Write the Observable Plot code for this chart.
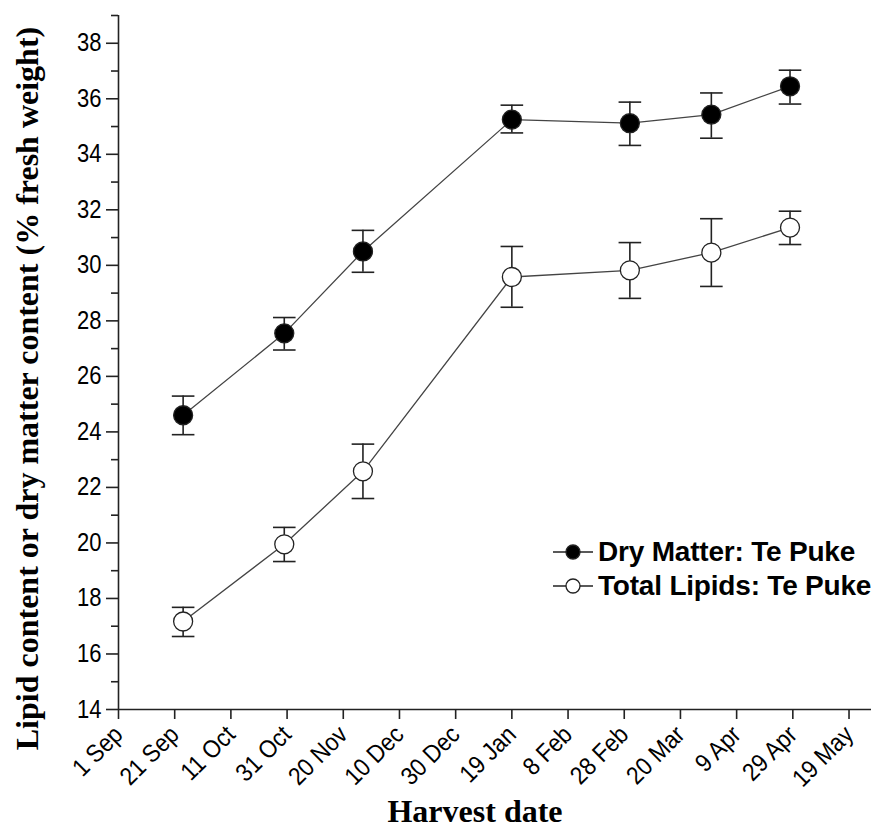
<!DOCTYPE html>
<html>
<head>
<meta charset="utf-8">
<script src="https://cdn.jsdelivr.net/npm/d3@7"></script>
<script src="https://cdn.jsdelivr.net/npm/@observablehq/plot@0.6"></script>
<style>
  html, body { margin: 0; padding: 0; background: #fff; }
  #wrap { position: relative; width: 881px; height: 832px; }
  #legend { position: absolute; left: 551px; top: 535px; font-family: "Liberation Sans", Arial, sans-serif; font-weight: bold; font-size: 28px; letter-spacing: -0.2px; color: #000; }
  .row { display: flex; align-items: center; height: 34px; }
  .row svg { display: block; margin-right: 3px; }
</style>
</head>
<body>
<div id="wrap">
  <div id="chart"></div>
  <div id="legend"></div>
</div>
<script>
// ---- data ----
const harvestDates = ["2005-09-24", "2005-10-30", "2005-11-27", "2006-01-19", "2006-03-02", "2006-03-31", "2006-04-28"];
const dryMatter     = [24.6, 27.55, 30.5, 35.25, 35.12, 35.43, 36.45];
const dryMatterLow  = [23.9, 26.95, 29.75, 34.77, 34.32, 34.58, 35.81];
const dryMatterHigh = [25.29, 28.12, 31.26, 35.77, 35.88, 36.21, 37.03];
const lipids        = [17.17, 19.95, 22.58, 29.58, 29.82, 30.46, 31.36];
const lipidsLow     = [16.63, 19.33, 21.6, 28.49, 28.81, 29.24, 30.75];
const lipidsHigh    = [17.68, 20.56, 23.56, 30.68, 30.82, 31.68, 31.95];

const seriesNames = ["Dry Matter: Te Puke", "Total Lipids: Te Puke"];

const xTickDates  = ["2005-09-01", "2005-09-21", "2005-10-11", "2005-10-31", "2005-11-20", "2005-12-10", "2005-12-30", "2006-01-19", "2006-02-08", "2006-02-28", "2006-03-20", "2006-04-09", "2006-04-29", "2006-05-19"];
const xTickLabels = ["1 Sep", "21 Sep", "11 Oct", "31 Oct", "20 Nov", "10 Dec", "30 Dec", "19 Jan", "8 Feb", "28 Feb", "20 Mar", "9 Apr", "29 Apr", "19 May"];
const xDomain = ["2005-09-01", "2006-05-27"];

const yMajorTicks = [14, 16, 18, 20, 22, 24, 26, 28, 30, 32, 34, 36, 38];
const yMinorTicks = [15, 17, 19, 21, 23, 25, 27, 29, 31, 33, 35, 37, 39];
const yDomain = [14, 39];

const xTitle = "Harvest date";
const yTitle = "Lipid content or dry matter content (% fresh weight)";

// ---- build tables ----
const rows = [];
harvestDates.forEach((d, i) => {
  rows.push({series: seriesNames[0], date: new Date(d), value: dryMatter[i], low: dryMatterLow[i], high: dryMatterHigh[i]});
});
harvestDates.forEach((d, i) => {
  rows.push({series: seriesNames[1], date: new Date(d), value: lipids[i], low: lipidsLow[i], high: lipidsHigh[i]});
});
const caps = rows.flatMap(r => [{date: r.date, y: r.low}, {date: r.date, y: r.high}]);
const labelByTime = new Map(xTickDates.map((d, i) => [new Date(d).getTime(), xTickLabels[i]]));

const capSymbol = {
  draw(context, size) {
    const w = Math.sqrt(size / Math.PI);
    context.moveTo(-w, 0);
    context.lineTo(w, 0);
  }
};

const fill = {[seriesNames[0]]: "#000", [seriesNames[1]]: "#fff"};
const serif = "'Liberation Serif', 'Times New Roman', serif";

const plot = Plot.plot({
  width: 881,
  height: 832,
  marginLeft: 118,
  marginRight: 10,
  marginTop: 15,
  marginBottom: 123,
  style: {fontFamily: "'Liberation Sans', Arial, sans-serif", color: "#000", background: "#fff"},
  x: {type: "utc", domain: xDomain.map(d => new Date(d))},
  y: {domain: yDomain},
  marks: [
    Plot.ruleY([yDomain[0]], {stroke: "#222", strokeWidth: 1.6}),
    Plot.ruleX([new Date(xDomain[0])], {stroke: "#222", strokeWidth: 1.6}),
    Plot.axisX({ticks: xTickDates.map(d => new Date(d)), tickFormat: d => labelByTime.get(d.getTime()), tickRotate: -45, tickSize: 10, tickPadding: 11, stroke: "#222", strokeWidth: 1.6, label: null, fill: "#000"}),
    Plot.axisY({ticks: yMajorTicks, tickSize: 12, tickPadding: 5, stroke: "#222", strokeWidth: 1.6, label: null, fill: "#000"}),
    Plot.axisY({ticks: yMinorTicks, tickSize: 7, tickFormat: () => "", stroke: "#222", strokeWidth: 1.6, label: null}),
    Plot.ruleX(rows, {x: "date", y1: "low", y2: "high", stroke: "#222", strokeWidth: 1.6}),
    Plot.dot(caps, {x: "date", y: "y", symbol: capSymbol, r: 11.3, stroke: "#222", strokeWidth: 1.6, fill: "none"}),
    Plot.line(rows, {x: "date", y: "value", z: "series", stroke: "#444", strokeWidth: 1.3}),
    Plot.dot(rows, {x: "date", y: "value", r: 9.5, fill: d => fill[d.series], stroke: "#222", strokeWidth: 1.3}),
    Plot.text([xTitle], {frameAnchor: "bottom", textAnchor: "middle", dx: -20, dy: 112, fontFamily: serif, fontWeight: "bold", fontSize: 32, fill: "#000"}),
    Plot.text([yTitle], {frameAnchor: "left", textAnchor: "middle", rotate: -90, dx: -91, dy: 26, fontFamily: serif, fontWeight: "bold", fontSize: 32, fill: "#000"})
  ]
});
document.getElementById("chart").appendChild(plot);

// tick label sizes: taller, slightly condensed glyphs as in the reference
d3.select(plot).selectAll("text").each(function () {
  const t = this.textContent;
  if (t === xTitle || t === yTitle || t === "") return;
  const isX = xTickLabels.includes(t);
  this.style.fontSize = isX ? "25px" : "25px";
  const w = this.getComputedTextLength();
  this.setAttribute("textLength", (w * (isX ? 0.9 : 0.88)).toFixed(1));
  this.setAttribute("lengthAdjust", "spacingAndGlyphs");
});

// ---- legend ----
const legend = d3.select("#legend");
seriesNames.forEach(name => {
  const row = legend.append("div").attr("class", "row");
  const svg = row.append("svg").attr("width", 44).attr("height", 34);
  svg.append("line").attr("x1", 2).attr("x2", 42).attr("y1", 17).attr("y2", 17).attr("stroke", "#222").attr("stroke-width", 1.4);
  svg.append("circle").attr("cx", 22).attr("cy", 17).attr("r", 7).attr("fill", fill[name]).attr("stroke", "#222").attr("stroke-width", 1.3);
  row.append("span").text(name);
});
</script>
</body>
</html>
